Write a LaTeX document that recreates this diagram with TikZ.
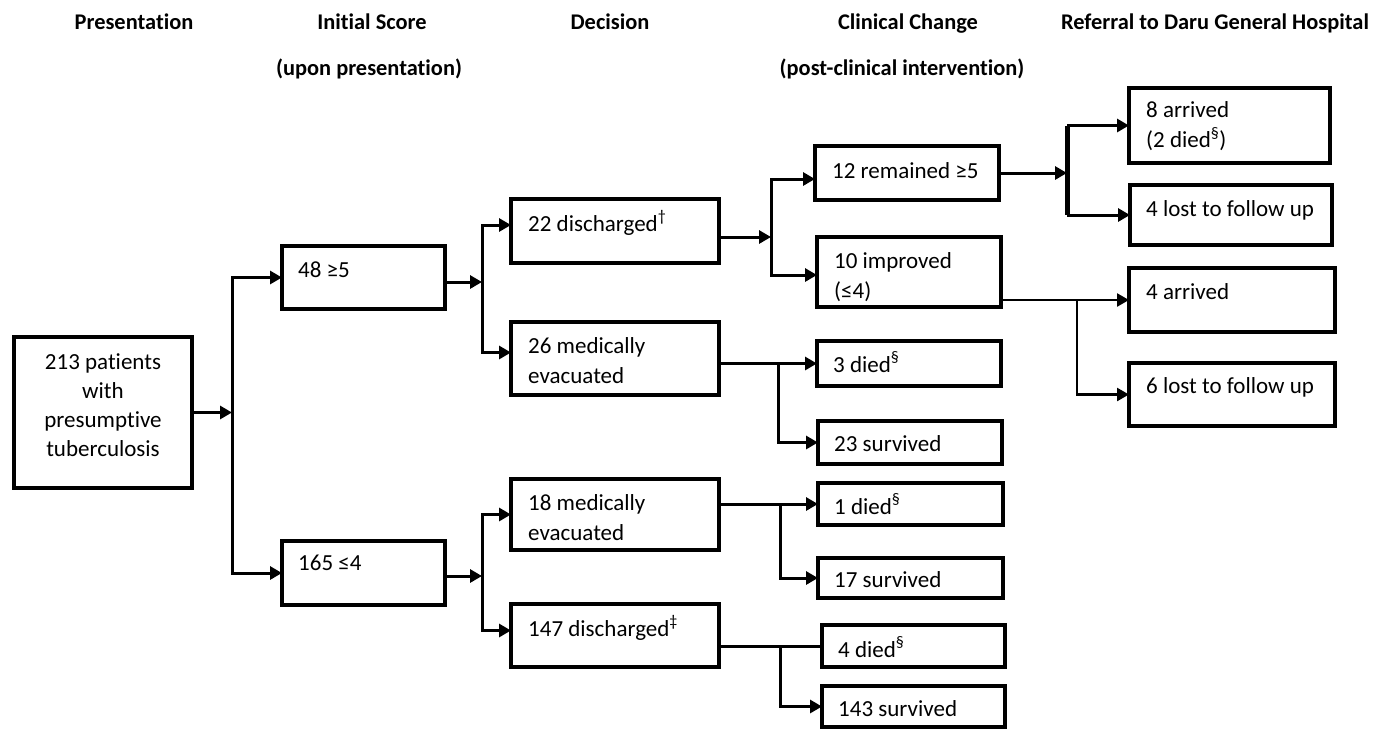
\documentclass[tikz,border=0pt]{standalone}
\usepackage{fontspec}
\setmainfont{Carlito}[Ligatures=NoCommon]
\usetikzlibrary{arrows.meta,calc}
\newcommand{\bx}[5]{\node[bx,minimum width={#4-#2},minimum height={#5-#3}] (#1) at ({(#2+#4)/2},{(#3+#5)/2}) {};}
\newcommand{\ls}[1]{\begin{tabular}[t]{@{}l@{}}#1\end{tabular}}
\begin{document}
\begin{tikzpicture}[x=1pt,y=-1pt,
  bx/.style={draw,line width=3.8pt,rectangle,inner sep=0pt,outer sep=0pt},
  tx/.style={anchor=base west,inner sep=0pt,font=\fontsize{23}{30.5}\selectfont},
  hd/.style={anchor=base,inner sep=0pt,font=\fontsize{22.4}{30}\selectfont\bfseries},
  ln/.style={line width=3pt},
  ar/.style={line width=3pt,-{Triangle[length=12pt,width=13pt]}}]
\useasboundingbox (0,0) rectangle (1386,729);
% headers
\node[hd] (hP) at (134,29) {Presentation};
\node[hd] (hS) at (372,29) {Initial Score};
\node[hd] (hS2) at (369,75) {(upon presentation)};
\node[hd] (hD) at (610,29) {Decision};
\node[hd] (hC) at (908,29) {Clinical Change};
\node[hd] (hC2) at (902,75) {(post-clinical intervention)};
\node[hd] (hR) at (1215,29) {Referral to Daru General Hospital};
% boxes
\bx{P}{14}{337}{192}{488}
\bx{S1}{282}{246}{445}{309}
\bx{S2}{282}{541}{445}{605}
\bx{D1}{511}{199}{719}{263}
\bx{D2}{511}{322}{719}{395}
\bx{D3}{511}{479}{719}{550}
\bx{D4}{511}{604}{719}{667}
\bx{C1}{815}{146}{999}{200}
\bx{C2}{817}{237}{1001}{307}
\bx{C3}{817}{341}{1001}{386}
\bx{C4}{818}{421}{1002}{464}
\bx{C5}{818}{483}{1003}{525}
\bx{C6}{818}{558}{1003}{598}
\bx{C7}{822}{625}{1005}{667}
\bx{C8}{822}{686}{1005}{727}
\bx{R1}{1129}{88}{1330}{163}
\bx{R2}{1130}{185}{1332}{245}
\bx{R3}{1129}{268}{1335}{332}
\bx{R4}{1129}{363}{1335}{426}
% texts
\node[anchor=base,inner sep=0pt,font=\fontsize{23}{29.3}\selectfont] (tP) at (103,369)
  {\begin{tabular}[t]{@{}c@{}}213 patients\\with\\presumptive\\tuberculosis\end{tabular}};
\node[tx] (tS1) at (298,277) {48 ≥5};
\node[tx] (tS2) at (298,570) {165 ≤4};
\node[tx] (tD1) at (528,231) {22 discharged\textsuperscript{†}};
\node[tx] (tD2) at (528,353) {\ls{26 medically\\evacuated}};
\node[tx] (tD3) at (528,510) {\ls{18 medically\\evacuated}};
\node[tx] (tD4) at (528,636) {147 discharged\textsuperscript{‡}};
\node[tx] (tC1) at (832,178) {12 remained ≥5};
\node[tx] (tC2) at (834,268) {\ls{10 improved\\(≤4)}};
\node[tx] (tC3) at (833,372) {3 died\textsuperscript{§}};
\node[tx] (tC4) at (834,451) {23 survived};
\node[tx] (tC5) at (834,514) {1 died\textsuperscript{§}};
\node[tx] (tC6) at (834,587) {17 survived};
\node[tx] (tC7) at (838,657) {4 died\textsuperscript{§}};
\node[tx] (tC8) at (838,716) {143 survived};
\node[tx] (tR1) at (1146,117) {\ls{8 arrived\\(2 died\textsuperscript{§})}};
\node[tx] (tR2) at (1146,216) {4 lost to follow up};
\node[tx] (tR3) at (1146,299) {4 arrived};
\node[tx] (tR4) at (1146,393) {6 lost to follow up};
% junction coordinates
\coordinate (j1) at (232,412.5);
\coordinate (j2) at (482,282);
\coordinate (j3) at (482,576);
\coordinate (j4) at (771,237);
\coordinate (k2) at (778,0);
\coordinate (k3) at (780,0);
\coordinate (j5) at (1067,173);
\coordinate (k5) at (1077,0);
% connectors
\draw[ar] (P.east) -- (j1);
\draw[ar] (j1) |- (S1.west);
\draw[ar] (j1) |- (S2.west);
\draw[ar] (S1.east |- j2) -- (j2);
\draw[ar] (j2) |- ([yshift=6pt]D1.west);
\draw[ar] (j2) |- ([yshift=6pt]D2.west);
\draw[ar] (S2.east |- j3) -- (j3);
\draw[ar] (j3) |- (D3.west);
\draw[ar] (j3) |- ([yshift=5pt]D4.west);
\draw[ar] (D1.east |- j4) -- (j4);
\draw[ar] (j4) |- ([yshift=-6pt]C1.west);
\draw[ar] (j4) |- ([yshift=-3pt]C2.west);
\draw[ar] (D2.east |- C3.west) -- (C3.west);
\draw[ar] (C3.west -| k2) |- (C4.west);
\draw[ar] (D3.east |- C5.west) -- (C5.west);
\draw[ar] (C5.west -| k3) |- (C6.west);
\draw[ln] (D4.east |- C7.west) -- (C7.west);
\draw[ar] (C7.west -| k3) |- (C8.west);
\draw[ar] (C1.east |- j5) -- (j5);
\draw[line width=5pt] (j5 |- R1.west) -- (j5 |- R2.west);
\draw[ar] (j5 |- R1.west) -- (R1.west);
\draw[ar] (j5 |- R2.west) -- (R2.west);
\draw[ar,line width=2.5pt] (C2.east |- R3.west) -- (R3.west);
\draw[ar,line width=2.5pt] (R3.west -| k5) |- (R4.west);
\end{tikzpicture}
\end{document}
